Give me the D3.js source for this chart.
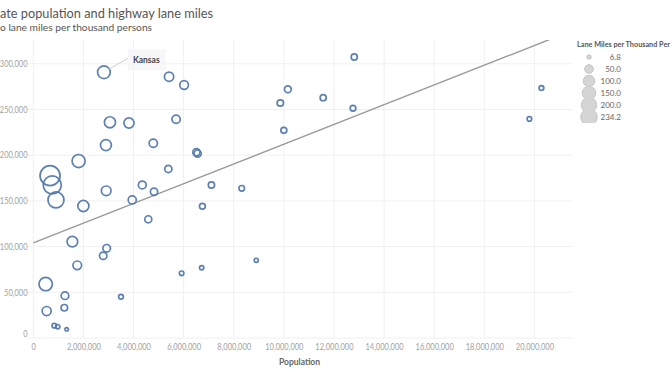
<!DOCTYPE html>
<html><head><meta charset="utf-8">
<script src="https://cdn.jsdelivr.net/npm/d3@7/dist/d3.min.js"></script>
<style>
body{margin:0;background:#fff;}
svg{display:block;font-family:Lato,"Open Sans",sans-serif;}
</style>
</head><body>
<svg id="chart" width="672" height="372"></svg>
<script>
// ---- data ----
const population = [670000, 758000, 906000, 1810000, 2900000, 2910000, 2000000, 3950000, 1560000, 495000,
  535000, 1265000, 1240000, 838000, 974000, 1333000, 1756000, 2790000, 2930000, 3500000,
  4590000, 4820000, 5920000, 2820000, 5420000, 6020000, 3060000, 3820000, 5700000, 4790000,
  6510000, 6560000, 5390000, 4350000, 7110000, 8320000, 6750000, 10160000, 9860000, 11570000,
  12810000, 12760000, 10000000, 6720000, 8900000, 20280000, 19800000];
const laneMiles = [177600, 167400, 151000, 193600, 211000, 161000, 144400, 151000, 105400, 59000,
  29500, 46300, 33100, 13500, 12400, 9500, 79500, 90000, 98100, 45200,
  129900, 160000, 70800, 290700, 285900, 276800, 236000, 235200, 239300, 213000,
  203200, 201800, 184900, 167400, 167400, 163800, 144100, 272100, 257100, 262900,
  307400, 251300, 227200, 76900, 85000, 273500, 239600];
const milesPerThousand = [234.2, 190, 150, 100, 70, 55, 72, 38, 66, 105,
  48, 34, 25, 12, 11, 6.8, 44, 32, 34, 13,
  29, 31, 12, 95, 50, 44, 72, 60, 40, 40,
  30, 30, 30, 36, 23, 18, 20, 27, 24, 22,
  22, 19, 21, 11, 10, 13, 12];
const annotatedState = "Kansas";
const annotatedIndex = 23;
const xTicks = [0, 2000000, 4000000, 6000000, 8000000, 10000000, 12000000, 14000000, 16000000, 18000000, 20000000];
const yTicks = [0, 50000, 100000, 150000, 200000, 250000, 300000];
const legendValues = [6.8, 50.0, 100.0, 150.0, 200.0, 234.2];
const trendIntercept = 104000;   // lane miles at population 0
const trendSlope = 0.0108;       // lane miles per person

// ---- layout ----
const svg = d3.select("#chart");
const L = 27, R = 572, T = 40, B = 338;
const x = d3.scaleLinear().domain([-250000, 21500000]).range([L, R]);
const y = d3.scaleLinear().domain([0, 326000]).range([B, T]);
const r = d3.scaleSqrt().domain([0, 234.2]).range([0, 10]);
const rLeg = d3.scaleSqrt().domain([0, 234.2]).range([1, 8.3]);
const fmt = d3.format(",");
const labelWidth = s => s.replace(/[^0-9]/g, "").length * 4.3 + s.replace(/[0-9]/g, "").length * 1.9;

// title
svg.append("text").attr("x", 0).attr("y", 18).attr("fill", "#555")
  .style("font-size", "14px").attr("textLength", 213).attr("lengthAdjust", "spacingAndGlyphs")
  .text("ate population and highway lane miles");
svg.append("text").attr("x", 0).attr("y", 30.5).attr("fill", "#555")
  .style("font-size", "10px").attr("textLength", 152).attr("lengthAdjust", "spacingAndGlyphs")
  .text("o lane miles per thousand persons");

// grid
const grid = svg.append("g");
grid.selectAll(".vg").data(xTicks).join("line")
  .attr("x1", d => x(d)).attr("x2", d => x(d)).attr("y1", T).attr("y2", B)
  .attr("stroke", "#f0f0f0").attr("stroke-width", 1);
grid.selectAll(".hg").data(yTicks).join("line")
  .attr("x1", L).attr("x2", R).attr("y1", d => y(d)).attr("y2", d => y(d))
  .attr("stroke", "#f0f0f0").attr("stroke-width", 1);

// axes (labels via d3 axes, no domain/ticks lines)
const xAxis = svg.append("g").attr("transform", `translate(0,${B})`)
  .call(d3.axisBottom(x).tickValues(xTicks).tickFormat(fmt).tickSize(0).tickPadding(6));
const yAxis = svg.append("g").attr("transform", `translate(${L + 0.5},0)`)
  .call(d3.axisLeft(y).tickValues(yTicks).tickFormat(fmt).tickSize(0).tickPadding(0));
[xAxis, yAxis].forEach(a => {
  a.select(".domain").remove();
  a.selectAll("text").attr("fill", "#a2a2a2").style("font-size", "8.5px").style("font-family", "Lato, sans-serif")
    .attr("textLength", d => labelWidth(fmt(d))).attr("lengthAdjust", "spacingAndGlyphs");
});
yAxis.selectAll(".tick").filter(d => d === 0).select("text").attr("dy", "-0.2em");

svg.append("text").attr("x", (L + R) / 2).attr("y", 365).attr("text-anchor", "middle")
  .attr("fill", "#666").style("font-size", "8.5px").style("font-weight", "bold").text("Population");

// clip
svg.append("clipPath").attr("id", "pc").append("rect")
  .attr("x", L).attr("y", T).attr("width", R - L).attr("height", B - T);

// trend line
const trendX = [0, 21500000];
svg.append("g").attr("clip-path", "url(#pc)").append("line")
  .attr("x1", x(trendX[0])).attr("y1", y(trendIntercept + trendSlope * trendX[0]))
  .attr("x2", x(trendX[1])).attr("y2", y(trendIntercept + trendSlope * trendX[1]))
  .attr("stroke", "#9a9a9a").attr("stroke-width", 1.4);

// bubbles
const data = population.map((p, i) => ({p, m: laneMiles[i], s: milesPerThousand[i]}));
svg.append("g").selectAll("circle").data(data).join("circle")
  .attr("cx", d => x(d.p)).attr("cy", d => y(d.m)).attr("r", d => r(d.s))
  .attr("fill", "none").attr("stroke", "#5479ad").attr("stroke-width", 1.7).attr("stroke-opacity", 0.95);

// annotation
const ad = data[annotatedIndex];
const ax = x(ad.p), ay = y(ad.m);
const ann = svg.append("g");
ann.append("line").attr("x1", ax + r(ad.s) * 0.8).attr("y1", ay - r(ad.s) * 0.5)
  .attr("x2", ax + 24).attr("y2", ay - 14).attr("stroke", "#cfcfcf").attr("stroke-width", 1);
ann.append("rect").attr("x", ax + 24).attr("y", ay - 23).attr("width", 38).attr("height", 21)
  .attr("fill", "#f6f6f6").attr("fill-opacity", 0.9);
ann.append("text").attr("x", ax + 29).attr("y", ay - 9.5).attr("fill", "#444")
  .style("font-size", "8.5px").style("font-weight", "bold").text(annotatedState);

// legend
const lg = svg.append("g");
lg.append("text").attr("x", 577).attr("y", 47).attr("fill", "#555")
  .style("font-size", "7.5px").style("font-weight", "bold")
  .attr("textLength", 93).attr("lengthAdjust", "spacingAndGlyphs")
  .text("Lane Miles per Thousand Per");
legendValues.forEach((v, i) => {
  const cy = 57 + i * 12;
  const cid = "lc" + i;
  lg.append("clipPath").attr("id", cid).append("rect").attr("x", 575).attr("y", cy - 6).attr("width", 30).attr("height", 12);
  lg.append("circle").attr("cx", 589).attr("cy", cy).attr("r", rLeg(v)).attr("clip-path", `url(#${cid})`)
    .attr("fill", "#d5d5d5").attr("stroke", "#bdbdbd").attr("stroke-width", 0.8);
  lg.append("text").attr("x", 621).attr("y", cy + 3).attr("text-anchor", "end").attr("fill", "#666")
    .style("font-size", "8px").text(d3.format(".1f")(v));
});
</script>
</body></html>
